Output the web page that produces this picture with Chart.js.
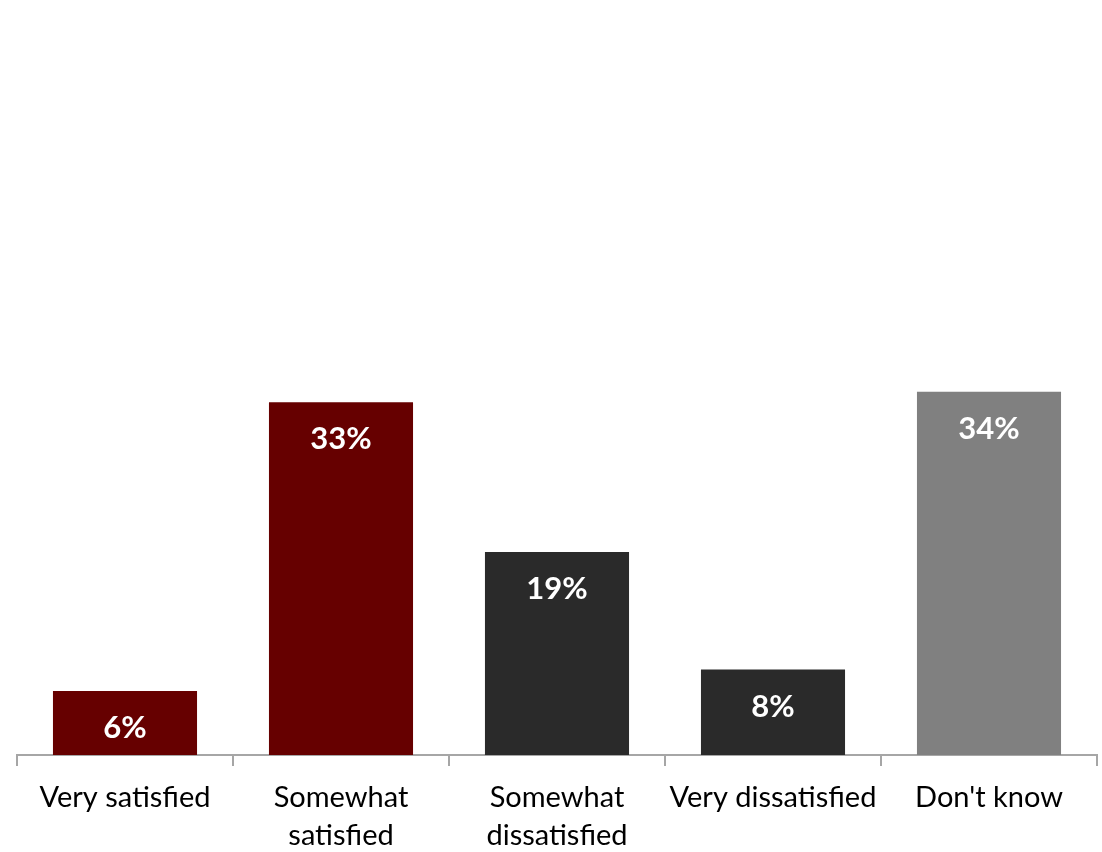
<!DOCTYPE html>
<html>
<head>
<meta charset="utf-8">
<script src="https://cdn.jsdelivr.net/npm/chart.js@4.4.0/dist/chart.umd.min.js"></script>
<style>
html,body{margin:0;padding:0;background:#fff;}
#wrap{width:1102px;height:852px;position:relative;}
</style>
</head>
<body>
<div id="wrap"><canvas id="c"></canvas></div>
<script>
const categories = [["Very satisfied"], ["Somewhat", "satisfied"], ["Somewhat", "dissatisfied"], ["Very dissatisfied"], ["Don't know"]];
const values = [6, 33, 19, 8, 34];
const valueLabels = ["6%", "33%", "19%", "8%", "34%"];
const barColors = ["#660000", "#660000", "#2a2a2a", "#2a2a2a", "#808080"];

const labelPlugin = {
  id: 'barLabels',
  afterDatasetsDraw(chart) {
    const ctx = chart.ctx;
    const meta = chart.getDatasetMeta(0);
    ctx.save();
    ctx.fillStyle = '#ffffff';
    ctx.font = 'bold 31px Lato, sans-serif';
    ctx.textAlign = 'center';
    ctx.textBaseline = 'middle';
    meta.data.forEach((bar, i) => {
      ctx.fillText(valueLabels[i], bar.x, bar.y + 37);
    });
    ctx.restore();
  }
};

new Chart(document.getElementById('c'), {
  type: 'bar',
  data: {
    labels: categories,
    datasets: [{
      data: values,
      backgroundColor: barColors,
      categoryPercentage: 1.0,
      barPercentage: 0.667
    }]
  },
  options: {
    responsive: true,
    maintainAspectRatio: false,
    animation: false,
    layout: { padding: { left: 17, right: 5, top: 7, bottom: 0 } },
    plugins: { legend: { display: false }, tooltip: { enabled: false } },
    scales: {
      x: {
        afterFit(scale) { scale.height = 97; },
        grid: { display: true, drawOnChartArea: false, drawTicks: true, tickLength: 11, color: '#a6a6a6', lineWidth: 2, offset: true },
        border: { display: true, color: '#a6a6a6', width: 2 },
        ticks: { color: '#000000', font: { family: 'Lato, sans-serif', size: 29, lineHeight: 1.3 }, padding: 13, maxRotation: 0, autoSkip: false }
      },
      y: { display: false, min: 0, max: 70 }
    }
  },
  plugins: [labelPlugin]
});
</script>
</body>
</html>
